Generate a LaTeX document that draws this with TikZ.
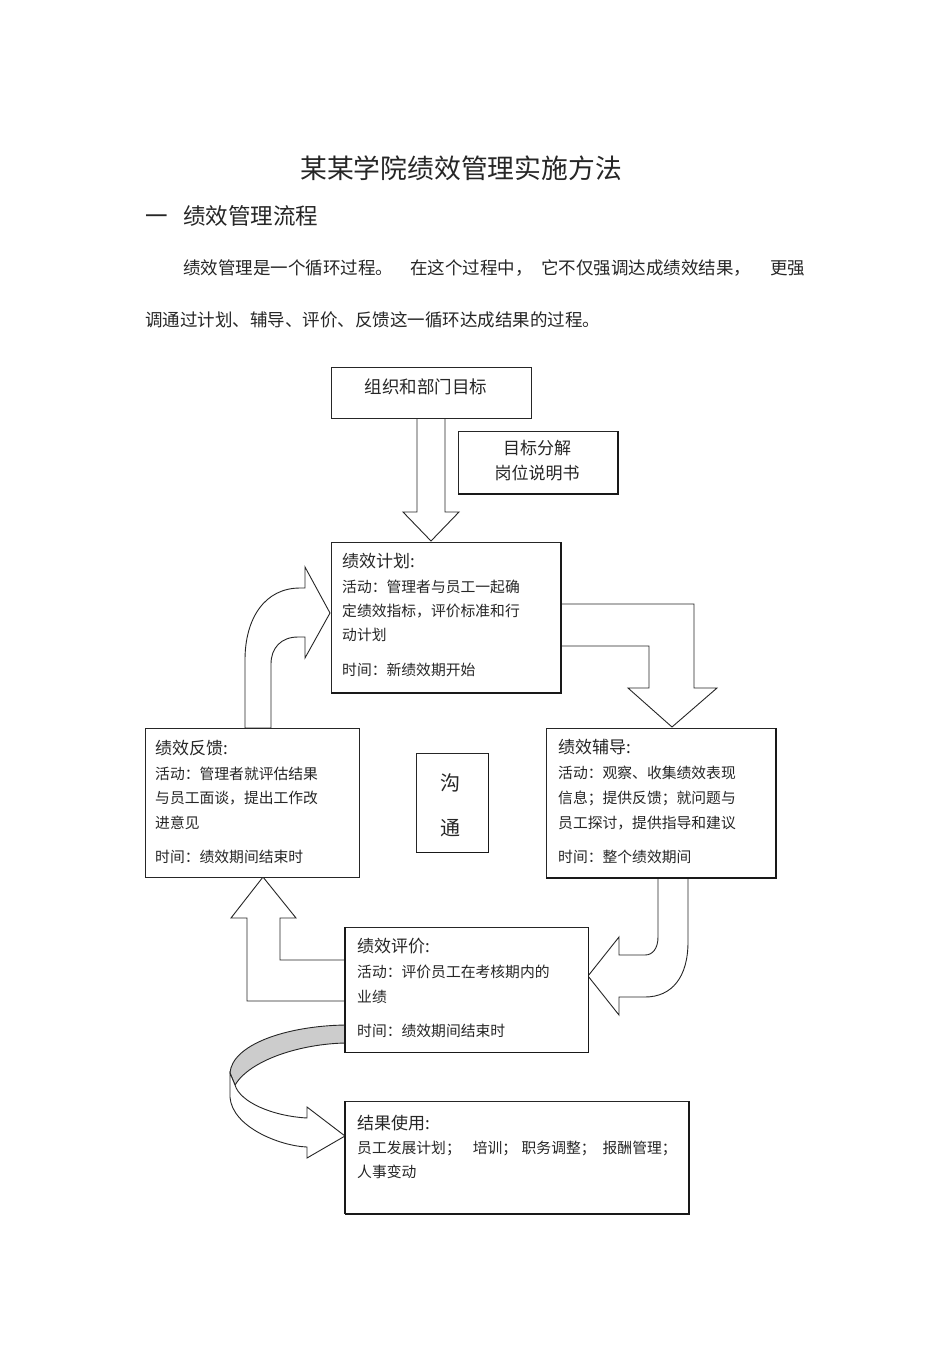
\documentclass[tikz,border=0pt]{standalone}
\usepackage{fontspec}
\newfontfamily\cjk{Noto Sans CJK SC}
\begin{document}
\begin{tikzpicture}[x=1pt,y=-1pt,
  box/.style={draw=black!85, line width=0.8pt, fill=white, inner sep=0pt, anchor=north west},
  shadowline/.style={draw=black!90, line width=1.6pt},
  barrow/.style={draw=black!85, line width=0.9pt, fill=white, line join=miter},
  body/.style={font=\cjk\fontsize{14.8}{16}\selectfont, anchor=base west, inner sep=0pt, text=black!85},
  ttl/.style={font=\cjk\fontsize{17}{18}\selectfont, anchor=base west, inner sep=0pt, text=black!85},
  para/.style={font=\cjk\fontsize{17.5}{18}\selectfont, anchor=base west, inner sep=0pt, text=black!85}
]
\useasboundingbox[fill=white] (0,0) rectangle (950,1345);

% ---- header text ----
\node[font=\cjk\fontsize{26.8}{28}\selectfont, anchor=base, inner sep=0pt, text=black!85] (title) at (461,178.2) {某某学院绩效管理实施方法};
\node[font=\cjk\fontsize{22.5}{24}\selectfont, anchor=base west, inner sep=0pt, text=black!85] (secnum) at (145,224.5) {一};
\node[font=\cjk\fontsize{22.5}{24}\selectfont, anchor=base west, inner sep=0pt, text=black!85] (sec) at (183,224.5) {绩效管理流程};
\node[para] (p1a) at (183,274.6) {绩效管理是一个循环过程。};
\node[para] (p1b) at (410,274.6) {在这个过程中，};
\node[para] (p1c) at (541,274.6) {它不仅强调达成绩效结果，};
\node[para] (p1d) at (770,274.6) {更强};
\node[para] (p2) at (145,326.6) {调通过计划、辅导、评价、反馈这一循环达成结果的过程。};

% ---- block arrows ----
% down arrow from org goals to plan
\draw[barrow] (417,418) -- (417,512) -- (403,512) -- (431,541) -- (459,512) -- (445,512) -- (445,418) -- cycle;
% plan -> coaching (right bend)
\draw[barrow] (559,604) -- (694,604) -- (694,688) -- (717,688) -- (672,727) -- (628,688) -- (649,688) -- (649,646) -- (559,646) -- cycle;
% coaching -> evaluation (curved)
\draw[barrow] (688,877) -- (688,942) .. controls (688,977) and (672,997) .. (645,997) -- (619,997) -- (619,1015) -- (588,976) -- (619,937) -- (619,955) -- (645,955) .. controls (653,955) and (658,948) .. (658,937) -- (658,877) -- cycle;
% evaluation -> feedback
\draw[barrow] (345,960) -- (280,960) -- (280,918) -- (296,918) -- (263,877) -- (231,918) -- (247,918) -- (247,1001) -- (345,1001) -- cycle;
% feedback -> plan (up bend)
\draw[barrow] (245,728) -- (245,660) .. controls (245,618) and (265,588) .. (300,588) -- (305,588) -- (305,567) -- (330,613) -- (305,658) -- (305,637) -- (298,637) .. controls (281,637) and (271,648) .. (271,664) -- (271,728) -- cycle;
% evaluation -> results (twisted curved arrow)
\draw[barrow, fill=black!20] (345,1025) .. controls (285,1026) and (232,1045) .. (230,1073) -- (235,1085) .. controls (250,1060) and (300,1044) .. (345,1043) -- cycle;
\draw[barrow] (230,1073) -- (230,1097) .. controls (232,1127) and (280,1146) .. (307,1147) -- (307,1158) -- (345,1136) -- (307,1107) -- (307,1118) .. controls (272,1116) and (240,1102) .. (235,1085) -- cycle;

% ---- boxes ----
\node[box, minimum width=200pt, minimum height=51pt] (org) at (331,367) {};
\node[font=\cjk\fontsize{17.5}{18}\selectfont, anchor=base, inner sep=0pt, text=black!85] (orgt) at (426,393.6) {组织和部门目标};

\node[box, minimum width=159pt, minimum height=62pt] (decomp) at (458,431) {};
\draw[shadowline] (decomp.north east) -- (decomp.south east) -- (decomp.south west);
\node[font=\cjk\fontsize{17}{18}\selectfont, anchor=base, inner sep=0pt, text=black!85] (decomp1) at (537,454.5) {目标分解};
\node[font=\cjk\fontsize{17}{18}\selectfont, anchor=base, inner sep=0pt, text=black!85] (decomp2) at (537,479.5) {岗位说明书};

\node[box, minimum width=229pt, minimum height=150pt] (plan) at (331,542) {};
\draw[shadowline] (plan.north east) -- (plan.south east) -- (plan.south west);
\node[ttl] (plant) at (342,567) {绩效计划:};
\node[body] (plan1) at (342,592.6) {活动：管理者与员工一起确};
\node[body] (plan2) at (342,616.6) {定绩效指标，评价标准和行};
\node[body] (plan3) at (342,640.6) {动计划};
\node[body] (plan4) at (342,675.6) {时间：新绩效期开始};

\node[box, minimum width=229pt, minimum height=149pt] (coach) at (546,728) {};
\draw[shadowline] (coach.north east) -- (coach.south east) -- (coach.south west);
\node[ttl] (coacht) at (558,753.5) {绩效辅导:};
\node[body] (coach1) at (558,778.6) {活动：观察、收集绩效表现};
\node[body] (coach2) at (558,803.6) {信息；提供反馈；就问题与};
\node[body] (coach3) at (558,828.6) {员工探讨，提供指导和建议};
\node[body] (coach4) at (558,862.6) {时间：整个绩效期间};

\node[box, minimum width=214pt, minimum height=149pt] (fb) at (145,728) {};
\node[ttl] (fbt) at (155,754) {绩效反馈:};
\node[body] (fb1) at (155,779) {活动：管理者就评估结果};
\node[body] (fb2) at (155,803.6) {与员工面谈，提出工作改};
\node[body] (fb3) at (155,828.6) {进意见};
\node[body] (fb4) at (155,862.6) {时间：绩效期间结束时};

\node[box, minimum width=72pt, minimum height=99pt] (comm) at (416,753) {};
\draw[shadowline, line width=1.2pt] (comm.north east) -- (comm.south east) -- (comm.south west);
\node[font=\cjk\fontsize{20}{22}\selectfont, anchor=base, inner sep=0pt, text=black!85] (comm1) at (450,790.6) {沟};
\node[font=\cjk\fontsize{20}{22}\selectfont, anchor=base, inner sep=0pt, text=black!85] (comm2) at (450,835.6) {通};

\node[box, minimum width=243pt, minimum height=125pt] (eval) at (345,927) {};
\draw[shadowline, line width=1.2pt] (eval.north east) -- (eval.south east) -- (eval.south west);
\draw[draw=black!90, line width=1.4pt] (eval.north west) -- (eval.south west);
\node[ttl] (evalt) at (357,952.5) {绩效评价:};
\node[body] (eval1) at (357,977.6) {活动：评价员工在考核期内的};
\node[body] (eval2) at (357,1002.6) {业绩};
\node[body] (eval3) at (357,1036.6) {时间：绩效期间结束时};

\node[box, minimum width=343pt, minimum height=112pt] (res) at (345,1101) {};
\draw[shadowline] (res.north east) -- (res.south east) -- (res.south west);
\draw[draw=black!90, line width=1.4pt] (res.north west) -- (res.south west);
\node[ttl] (rest) at (357,1129.5) {结果使用:};
\node[body] (res1) at (357,1153.6) {员工发展计划；\hspace{12pt}培训；\hspace{4.5pt}职务调整；\hspace{7pt}报酬管理；};
\node[body] (res2) at (357,1177.6) {人事变动};
\end{tikzpicture}
\end{document}
